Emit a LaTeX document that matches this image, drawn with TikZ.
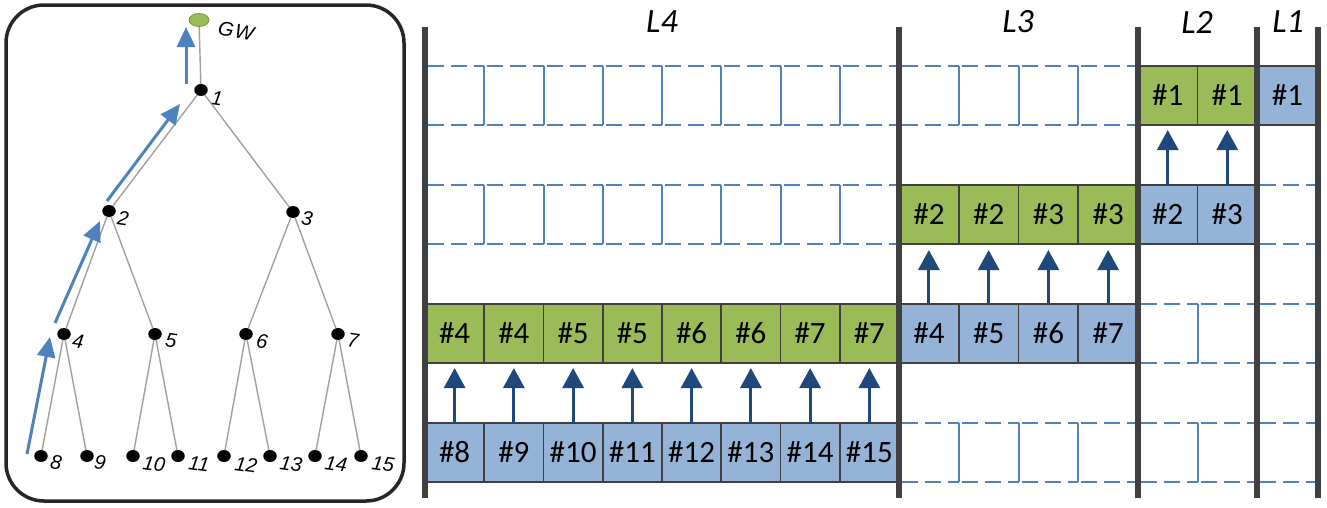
\documentclass[tikz,border=0pt]{standalone}
\usepackage{fontspec}
\setmainfont{Carlito}
\newfontfamily\lsans{Liberation Sans}
\usetikzlibrary{arrows.meta,shapes.geometric}
\definecolor{gfill}{HTML}{9BBB59}
\definecolor{gborder}{HTML}{7A9A3A}
\definecolor{bfill}{HTML}{95B3D7}
\definecolor{bord}{HTML}{404040}
\definecolor{dblue}{HTML}{4F81BD}
\definecolor{navy}{HTML}{1F497D}
\definecolor{edgegray}{HTML}{A0A0A0}
\definecolor{panel}{HTML}{262626}
\begin{document}
\begin{tikzpicture}[x=1pt,y=-1pt,
 cellbase/.style={draw=bord, line width=1.8pt, inner sep=0pt, outer sep=0pt, minimum height=59pt, font=\fontsize{31}{36}\selectfont},
 gcell/.style={cellbase, fill=gfill},
 bcell/.style={cellbase, fill=bfill},
 dashline/.style={dblue, line width=2.1pt, dash pattern=on 16pt off 7pt, dash phase=-3pt},
 sepline/.style={dblue, line width=2pt},
 bar/.style={bord, line width=6pt},
 uparr/.style={navy, line width=3pt, -{Triangle[length=20pt,width=21pt]}},
 treearr/.style={dblue, line width=3pt, -{Triangle[length=20pt,width=18pt]}},
 dot/.style={ellipse, fill=black, inner sep=0pt, outer sep=0pt, minimum width=13.5pt, minimum height=12pt},
 gwdot/.style={ellipse, fill=gfill, draw=gborder, line width=0.8pt, inner sep=0pt, minimum width=20pt, minimum height=13pt},
 tedge/.style={edgegray, line width=1.4pt},
 tlabel/.style={font=\lsans\itshape\fontsize{20}{22}\selectfont, rotate=-8, inner sep=0pt},
 gwlabel/.style={font=\lsans\itshape\fontsize{20}{22}\selectfont, rotate=-11, inner sep=0pt},
 lvl/.style={font=\itshape\fontsize{34}{40}\selectfont, inner sep=0pt}
]
\useasboundingbox (0,0) rectangle (1327,507);
% ---------- left panel ----------
\draw[panel, line width=3.5pt, rounded corners=38pt] (6,5) rectangle (404,501);
\node[gwdot] (gw) at (199,20) {};
\node[gwlabel] (gwl) at (236,31) {G\kern1.5pt W};
\foreach \nm/\x/\y in {1/201/90, 2/109/211, 3/293/212, 4/64/334, 5/155/334, 6/246/334, 7/338/334,
  8/41/456, 9/87/456, 10/133/456, 11/178/456, 12/224/456, 13/270/456, 14/315/456, 15/361/456}
  {\node[dot] (n\nm) at (\x,\y) {};}
\foreach \nm/\x/\y in {1/217/98, 2/123/218, 3/307/218, 4/78/341, 5/171/341, 6/262/341, 7/353/340,
  8/56/462, 9/100/462, 10/154/464, 11/199/464, 12/246/465, 13/291/464, 14/336/464, 15/383/464}
  {\node[tlabel] (l\nm) at (\x,\y) {\nm};}
\draw[tedge] (gw) -- (n1);
\foreach \p/\c in {1/2,1/3,2/4,2/5,3/6,3/7,4/8,4/9,5/10,5/11,6/12,6/13,7/14,7/15}
  {\draw[tedge] (n\p) -- (n\c);}
\coordinate (a1s) at (186,84);  \coordinate (a1e) at (186,27);
\coordinate (a2s) at (107,201); \coordinate (a2e) at (180,104);
\coordinate (a3s) at (55,323);  \coordinate (a3e) at (100,221);
\coordinate (a4s) at (27,454);  \coordinate (a4e) at (50,337);
\foreach \k in {1,2,3,4} {\draw[treearr] (a\k s) -- (a\k e);}
% ---------- right panel ----------
% empty dashed slots
\foreach \sx/\w/\nn/\yt in {425/59.25/8/66, 899/59.75/4/66,
   425/59.25/8/185, 1257/61/1/185,
   1138/59.5/2/304, 1257/61/1/304,
   899/59.75/4/423, 1138/59.5/2/423, 1257/61/1/423}{
  \foreach \k in {1,...,\nn}{
    \draw[dashline] ({\sx+\w*(\k-1)},\yt) -- ({\sx+\w*\k},\yt);
    \draw[dashline] ({\sx+\w*(\k-1)},\yt+59) -- ({\sx+\w*\k},\yt+59);
    \ifnum\k<\nn\relax
      \draw[sepline] ({\sx+\w*\k},\yt) -- ({\sx+\w*\k},\yt+59);
    \fi
  }
}
% row 4, L4 (blue)
\foreach \i in {1,...,8}{
  \pgfmathtruncatemacro\lab{\i+7}
  \node[bcell, minimum width=59.25pt] (r4c\i) at ({425+59.25*(\i-0.5)},452.5) {\#\lab};
}
% row 3, L4 (green)
\foreach \i in {1,...,8}{
  \pgfmathtruncatemacro\lab{floor((\i-1)/2)+4}
  \node[gcell, minimum width=59.25pt] (r3c\i) at ({425+59.25*(\i-0.5)},333.5) {\#\lab};
}
% row 3, L3 (blue)
\foreach \i in {1,...,4}{
  \pgfmathtruncatemacro\lab{\i+3}
  \node[bcell, minimum width=59.75pt] (r3d\i) at ({899+59.75*(\i-0.5)},333.5) {\#\lab};
}
% row 2, L3 (green)
\foreach \i in {1,...,4}{
  \pgfmathtruncatemacro\lab{floor((\i-1)/2)+2}
  \node[gcell, minimum width=59.75pt] (r2c\i) at ({899+59.75*(\i-0.5)},214.5) {\#\lab};
}
% row 2, L2 (blue)
\foreach \i in {1,2}{
  \pgfmathtruncatemacro\lab{\i+1}
  \node[bcell, minimum width=59.5pt] (r2d\i) at ({1138+59.5*(\i-0.5)},214.5) {\#\lab};
}
% row 1, L2 (green)
\foreach \i in {1,2}{
  \node[gcell, minimum width=59.5pt] (r1c\i) at ({1138+59.5*(\i-0.5)},95.5) {\#1};
}
% row 1, L1 (blue)
\node[bcell, minimum width=61pt] (r1d) at (1287.5,95.5) {\#1};
% arrows
\foreach \i in {1,...,8}{\draw[uparr, shorten >=5pt] (r4c\i.north) -- (r3c\i.south);}
\foreach \i in {1,...,4}{\draw[uparr, shorten >=6pt] (r3d\i.north) -- (r2c\i.south);}
\foreach \i in {1,2}{\draw[uparr, shorten >=5pt] (r2d\i.north) -- (r1c\i.south);}
% bars
\foreach \x in {425,899,1138,1257,1318}{\draw[bar] (\x,27) -- (\x,498);}
% level labels
\node[lvl] (L4) at (662,22) {L4};
\node[lvl] (L3) at (1018,22) {L3};
\node[lvl] (L2) at (1197,22) {L2};
\node[lvl] (L1) at (1288,22) {L1};
\end{tikzpicture}
\end{document}
